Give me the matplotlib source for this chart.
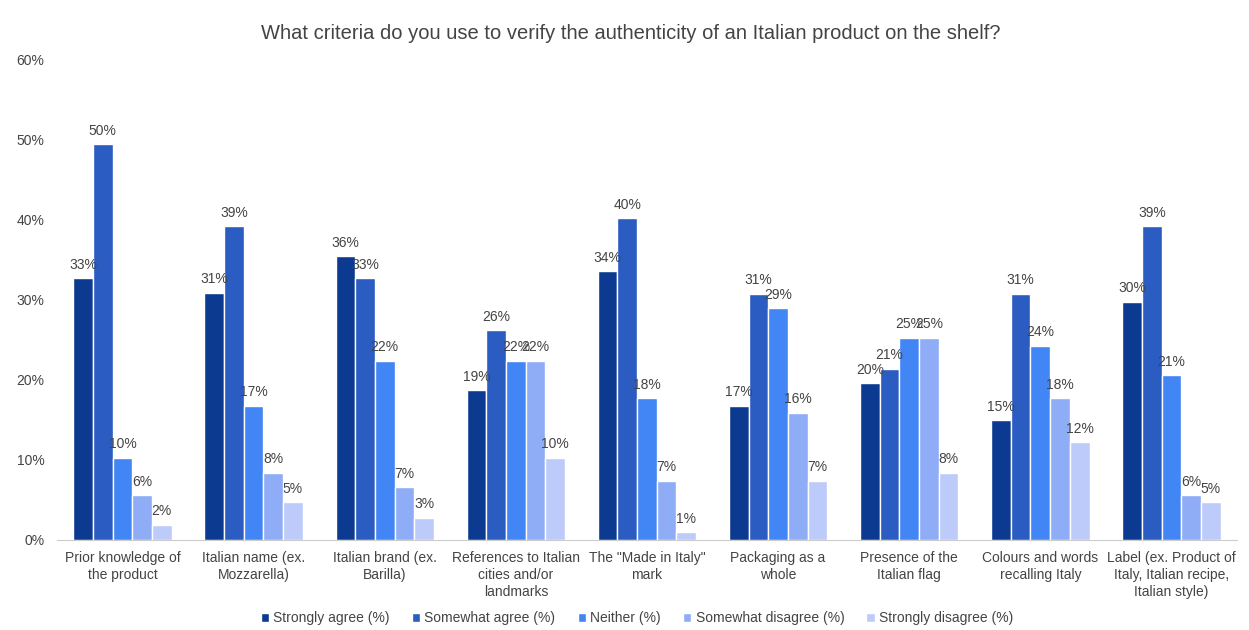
import numpy as np
import matplotlib.pyplot as plt

plt.rcParams['font.family'] = ['Liberation Sans', 'DejaVu Sans']

categories = [
    "Prior knowledge of\nthe product",
    "Italian name (ex.\nMozzarella)",
    "Italian brand (ex.\nBarilla)",
    "References to Italian\ncities and/or\nlandmarks",
    "The \"Made in Italy\"\nmark",
    "Packaging as a\nwhole",
    "Presence of the\nItalian flag",
    "Colours and words\nrecalling Italy",
    "Label (ex. Product of\nItaly, Italian recipe,\nItalian style)",
]
series_names = [
    "Strongly agree (%)",
    "Somewhat agree (%)",
    "Neither (%)",
    "Somewhat disagree (%)",
    "Strongly disagree (%)",
]
strongly_agree = [32.7, 30.9, 35.5, 18.7, 33.6, 16.8, 19.6, 15.0, 29.8]
somewhat_agree = [49.5, 39.2, 32.7, 26.2, 40.2, 30.8, 21.4, 30.8, 39.2]
neither = [10.3, 16.8, 22.4, 22.4, 17.7, 29.0, 25.3, 24.3, 20.6]
somewhat_disagree = [5.6, 8.4, 6.6, 22.4, 7.4, 15.9, 25.3, 17.7, 5.6]
strongly_disagree = [1.9, 4.7, 2.8, 10.3, 1.0, 7.4, 8.4, 12.2, 4.7]

values = [strongly_agree, somewhat_agree, neither, somewhat_disagree, strongly_disagree]
colors = ["#0b3a90", "#2a5cc2", "#4285f4", "#8fadf7", "#bccbfa"]
text_color = "#444444"

fig = plt.figure(figsize=(12.49, 6.3), dpi=100)
ax = fig.add_axes([0.0456, 0.1429, 0.9448, 0.7619])

x = np.arange(len(categories))
bar_w = 0.15
for i, (name, vals, c) in enumerate(zip(series_names, values, colors)):
    pos = x + (i - 2) * bar_w
    bars = ax.bar(pos, vals, width=bar_w, color=c, edgecolor="white",
                  linewidth=1.0, label=name)
    for b, v in zip(bars, vals):
        ax.text(b.get_x() + b.get_width() / 2, v + 0.8, f"{v:.0f}%",
                ha="center", va="bottom", fontsize=10, color=text_color)

ax.set_xlim(-0.5, len(categories) - 0.5)
ax.set_ylim(0, 60)
ax.set_yticks(np.arange(0, 61, 10))
ax.set_yticklabels([f"{t}%" for t in range(0, 61, 10)])
ax.set_xticks(x)
ax.set_xticklabels(categories, fontsize=10, color=text_color, linespacing=1.25)
ax.tick_params(axis="y", length=0, labelsize=10, labelcolor=text_color, pad=9)
ax.tick_params(axis="x", length=0, pad=8)

for side in ["top", "right", "left"]:
    ax.spines[side].set_visible(False)
ax.spines["bottom"].set_color("#cccccc")

fig.suptitle("What criteria do you use to verify the authenticity of an Italian product on the shelf?",
             x=0.505, y=0.962, fontsize=14.5, color=text_color)

fig.legend(loc="lower center", bbox_to_anchor=(0.51, -0.012), ncol=5, frameon=False,
           fontsize=10, handlelength=0.6, handleheight=0.6, handletextpad=0.3,
           columnspacing=1.6, labelcolor=text_color)

fig.savefig("out.png", dpi=100)
